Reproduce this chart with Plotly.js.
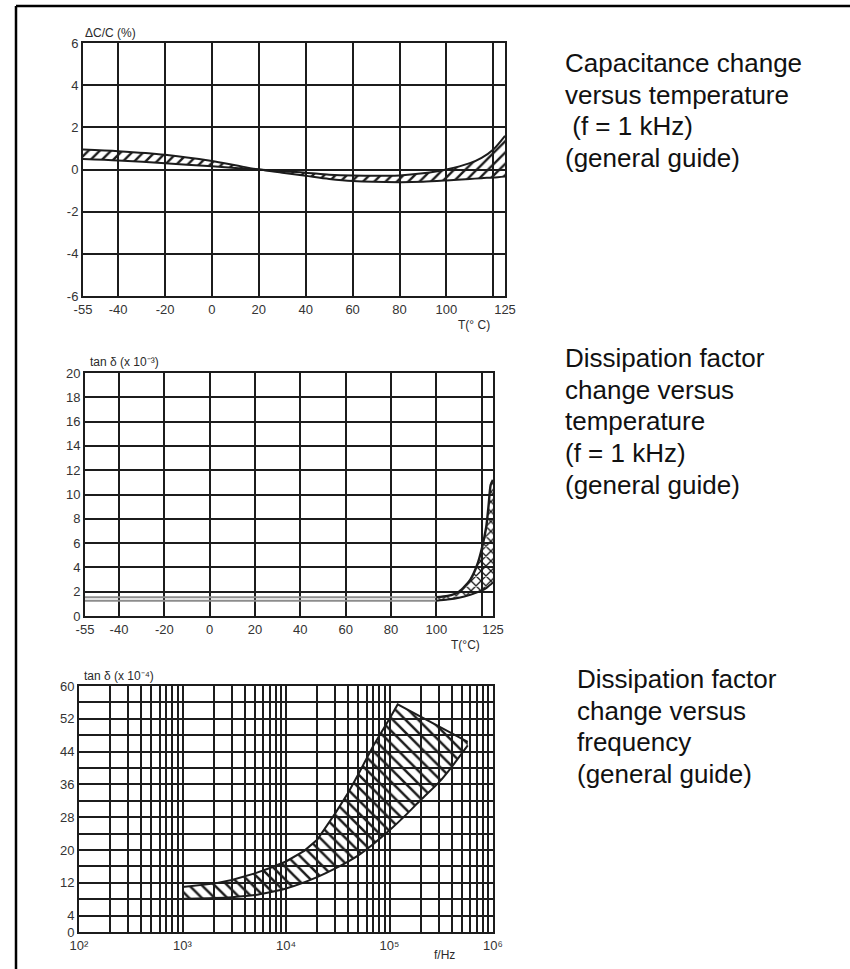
<!DOCTYPE html>
<html><head><meta charset="utf-8">
<script src="https://cdn.plot.ly/plotly-3.0.1.min.js"></script>
<style>html,body{margin:0;padding:0;background:#fff}</style>
</head><body><div id="chart" style="width:850px;height:969px"></div>
<script>
// ---------- data ----------
// Chart 1: capacitance change vs temperature (%)
const T1 = [-55, -40, -20, 0, 10, 20, 30, 40, 50, 60, 80, 90, 100, 110, 115, 120, 125];
const dC_upper = [0.95, 0.87, 0.7, 0.4, 0.2, 0.0, -0.08, -0.15, -0.25, -0.29, -0.28, -0.18, 0.0, 0.3, 0.55, 0.95, 1.6];
const dC_lower = [0.5, 0.43, 0.3, 0.15, 0.07, 0.0, -0.15, -0.3, -0.45, -0.55, -0.6, -0.58, -0.52, -0.45, -0.41, -0.38, -0.33];

// Chart 2: dissipation factor vs temperature (x 1e-3)
const T2_flat = [-55, 100];
const tan2_flatUpper = [1.55, 1.55];
const tan2_flatLower = [1.25, 1.25];
const T2_rise = [100, 105, 110, 115, 118, 120, 122, 123, 124, 125];
const tan2_riseUpper = [1.55, 1.65, 2.0, 3.0, 4.2, 5.5, 7.3, 9.0, 10.8, 11.2];
const tan2_riseLower = [1.25, 1.35, 1.5, 1.75, 1.95, 2.1, 2.3, 2.45, 2.6, 2.75];

// Chart 3: dissipation factor vs frequency (x 1e-4)
const f3_upper = [1e3, 2e3, 3e3, 5e3, 7e3, 1e4, 1.5e4, 2e4, 3e4, 4e4, 5e4, 7e4, 1e5, 1.2e5, 5.7e5];
const tan3_upper = [11, 11.8, 12.7, 14.3, 15.6, 17.2, 19.8, 22.5, 29, 34, 38.5, 45.5, 52, 55.5, 46.4];
const f3_lower = [1e3, 2e3, 3e3, 5e3, 7e3, 1e4, 2e4, 3e4, 5e4, 7e4, 1e5, 1.5e5, 2e5, 3e5, 4e5, 5.7e5];
const tan3_lower = [8.1, 8.3, 8.5, 9.0, 9.7, 10.6, 13.4, 15.5, 18.7, 21.5, 24.8, 29, 32.2, 36.5, 40.3, 45.5];

// Tick labels and grid positions
const T_ticks = [-55, -40, -20, 0, 20, 40, 60, 80, 100, 125];
const T_tickText = ['-55', '-40', '-20', '0', '20', '40', '60', '80', '100', '125'];
const T_minorGrid = [120];
const y1_ticks = [-6, -4, -2, 0, 2, 4, 6];
const y1_tickText = ['-6', '-4', '-2', '0', '2', '4', '6'];
const y2_ticks = [0, 2, 4, 6, 8, 10, 12, 14, 16, 18, 20];
const y2_tickText = ['0', '2', '4', '6', '8', '10', '12', '14', '16', '18', '20'];
const y3_ticks = [0, 4, 12, 20, 28, 36, 44, 52, 60];
const y3_tickText = ['0', '4', '12', '20', '28', '36', '44', '52', '60'];
const y3_minorGrid = [8, 16, 24, 32, 40, 48, 56];
const f_decades = [1e2, 1e3, 1e4, 1e5, 1e6];
const f_decadeText = ['10\u00b2', '10\u00b3', '10\u2074', '10\u2075', '10\u2076'];
const f_multipliers = [2, 3, 4, 5, 6, 7, 8, 9];

// Texts
const block1 = ['Capacitance change', 'versus temperature', '\u00a0(f = 1 kHz)', '(general guide)'];
const block2 = ['Dissipation factor', 'change versus', 'temperature', '(f = 1 kHz)', '(general guide)'];
const block3 = ['Dissipation factor', 'change versus', 'frequency', '(general guide)'];

// ---------- layout helpers ----------
const W = 850, H = 969;
const px = v => v / W;
const py = v => 1 - v / H;

const f_minorGrid = [];
for (let i = 0; i < f_decades.length - 1; i++) {
  f_multipliers.forEach(m => f_minorGrid.push(m * f_decades[i]));
}

const INK = '#1c1c1c';
const tickFont = {family: 'Liberation Sans, Arial, sans-serif', size: 13, color: '#333'};
function axis(extra, minorVals) {
  const a = {
    showgrid: true, gridcolor: INK, gridwidth: 2,
    showline: true, mirror: true, linecolor: INK, linewidth: 2,
    zeroline: false, ticks: '', tickfont: tickFont, fixedrange: true, tickmode: 'array'
  };
  if (minorVals) {
    a.minor = {tickmode: 'array', tickvals: minorVals, showgrid: true, gridcolor: INK, gridwidth: 2, ticks: ''};
  }
  return Object.assign(a, extra);
}

const traces = [
  // chart 1
  {x: T1, y: dC_lower, xaxis: 'x', yaxis: 'y', mode: 'lines',
   line: {color: INK, width: 2, shape: 'spline', smoothing: 0.8}, hoverinfo: 'skip'},
  {x: T1, y: dC_upper, xaxis: 'x', yaxis: 'y', mode: 'lines',
   line: {color: INK, width: 2, shape: 'spline', smoothing: 0.8},
   fill: 'tonexty', fillcolor: 'rgba(0,0,0,0)',
   fillpattern: {shape: '/', fgcolor: INK, bgcolor: 'rgba(0,0,0,0)', size: 8, solidity: 0.3, fillmode: 'replace'},
   hoverinfo: 'skip'},
  // chart 2 flat section
  {x: T2_flat, y: tan2_flatLower, xaxis: 'x2', yaxis: 'y2', mode: 'lines',
   line: {color: '#8c8c8c', width: 2}, hoverinfo: 'skip'},
  {x: T2_flat, y: tan2_flatUpper, xaxis: 'x2', yaxis: 'y2', mode: 'lines',
   line: {color: '#8c8c8c', width: 2}, hoverinfo: 'skip'},
  // chart 2 rising section
  {x: T2_rise, y: tan2_riseLower, xaxis: 'x2', yaxis: 'y2', mode: 'lines',
   line: {color: INK, width: 2, shape: 'spline', smoothing: 0.7}, hoverinfo: 'skip'},
  {x: T2_rise, y: tan2_riseUpper, xaxis: 'x2', yaxis: 'y2', mode: 'lines',
   line: {color: INK, width: 2.4, shape: 'spline', smoothing: 0.7},
   fill: 'tonexty', fillcolor: 'rgba(0,0,0,0)',
   fillpattern: {shape: 'x', fgcolor: INK, bgcolor: 'rgba(0,0,0,0)', size: 7, solidity: 0.35, fillmode: 'replace'},
   hoverinfo: 'skip'},
  // chart 3
  {x: f3_lower, y: tan3_lower, xaxis: 'x3', yaxis: 'y3', mode: 'lines',
   line: {color: INK, width: 2, shape: 'spline', smoothing: 0.8}, hoverinfo: 'skip'},
  {x: f3_upper, y: tan3_upper, xaxis: 'x3', yaxis: 'y3', mode: 'lines',
   line: {color: INK, width: 2, shape: 'linear'},
   fill: 'tonexty', fillcolor: 'rgba(0,0,0,0)',
   fillpattern: {shape: '\\', fgcolor: INK, bgcolor: 'rgba(0,0,0,0)', size: 9, solidity: 0.28, fillmode: 'replace'},
   hoverinfo: 'skip'}
];

const smallFont = {family: 'Liberation Sans, Arial, sans-serif', size: 12, color: '#2a2a2a'};
const bigFont = {family: 'Liberation Sans, Arial, sans-serif', size: 26, color: '#111'};

const annotations = [
  {text: '\u0394C/C (%)', x: px(83), y: py(33), xanchor: 'left', yanchor: 'middle', font: smallFont},
  {text: 'T(\u00b0 C)', x: px(474), y: py(325), xanchor: 'center', yanchor: 'middle', font: smallFont},
  {text: 'tan \u03b4 (x 10\u207b\u00b3)', x: px(88), y: py(362), xanchor: 'left', yanchor: 'middle', font: smallFont},
  {text: 'T(\u00b0C)', x: px(465), y: py(645), xanchor: 'center', yanchor: 'middle', font: smallFont},
  {text: 'tan \u03b4 (x 10\u207b\u2074)', x: px(82), y: py(676), xanchor: 'left', yanchor: 'middle', font: smallFont},
  {text: 'f/Hz', x: px(444), y: py(955), xanchor: 'center', yanchor: 'middle', font: smallFont}
];
function addBlock(lines, x0, y0, pitch) {
  lines.forEach((t, i) => annotations.push({
    text: t, x: px(x0), y: py(y0 + i * pitch), xanchor: 'left', yanchor: 'middle', font: bigFont
  }));
}
addBlock(block1, 563, 63, 31.7);
addBlock(block2, 563, 358, 31.7);
addBlock(block3, 575, 679, 31.7);
annotations.forEach(a => { a.xref = 'paper'; a.yref = 'paper'; a.showarrow = false; });

const layout = {
  width: W, height: H, margin: {l: 0, r: 0, t: 0, b: 0},
  paper_bgcolor: '#fff', plot_bgcolor: '#fff', showlegend: false,
  xaxis: axis({domain: [px(83), px(505)], range: [-55, 125], tickvals: T_ticks, ticktext: T_tickText, anchor: 'y'}, T_minorGrid),
  yaxis: axis({domain: [py(296), py(43)], range: [-6, 6], tickvals: y1_ticks, ticktext: y1_tickText, anchor: 'x'}),
  xaxis2: axis({domain: [px(85), px(493)], range: [-55, 125], tickvals: T_ticks, ticktext: T_tickText, anchor: 'y2'}, T_minorGrid),
  yaxis2: axis({domain: [py(616), py(373)], range: [0, 20], tickvals: y2_ticks, ticktext: y2_tickText, anchor: 'x2'}),
  xaxis3: axis({domain: [px(79), px(493)], type: 'log', range: [2, 6], tickvals: f_decades, ticktext: f_decadeText, anchor: 'y3'}, f_minorGrid),
  yaxis3: axis({domain: [py(932), py(686)], range: [0, 60], tickvals: y3_ticks, ticktext: y3_tickText, anchor: 'x3'}, y3_minorGrid),
  annotations: annotations,
  shapes: [
    {type: 'line', xref: 'paper', yref: 'paper', x0: px(16), x1: 1, y0: py(6), y1: py(6), line: {color: '#000', width: 2.5}},
    {type: 'line', xref: 'paper', yref: 'paper', x0: px(16), x1: px(16), y0: py(6), y1: 0, line: {color: '#000', width: 2.5}}
  ]
};

Plotly.newPlot('chart', traces, layout, {staticPlot: true, displayModeBar: false});
</script></body></html>
